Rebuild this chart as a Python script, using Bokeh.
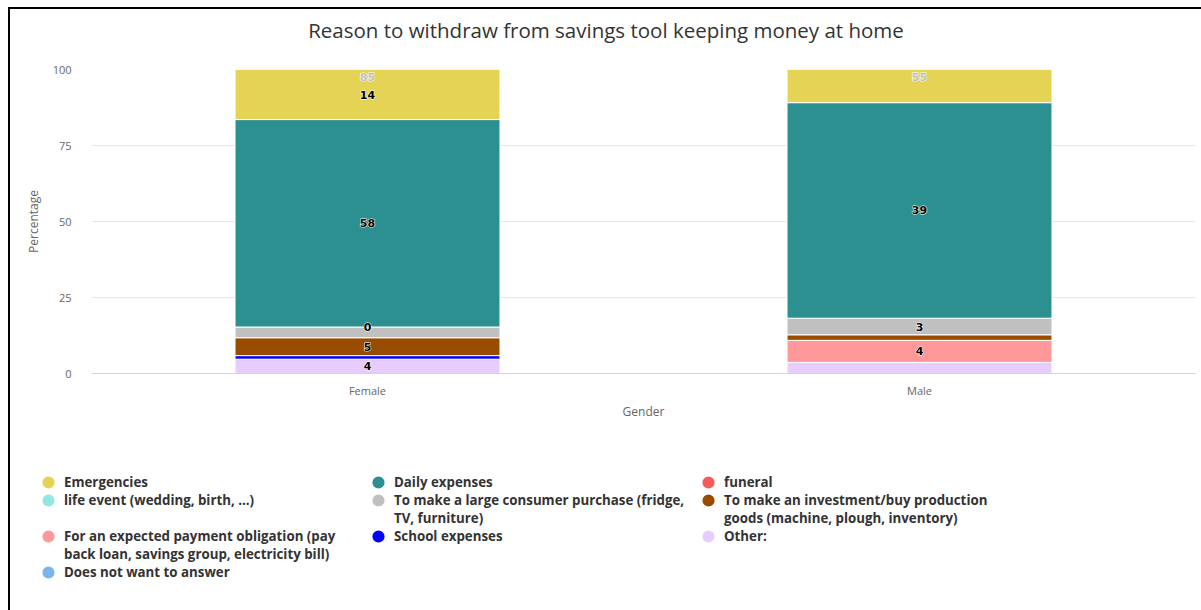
from bokeh.plotting import figure
from bokeh.layouts import column
from bokeh.models import Legend, LegendItem, FixedTicker
from bokeh.embed import file_html
from bokeh.resources import INLINE
from bokeh.core.properties import value

# ---------------- data ----------------
categories = ["Female", "Male"]

title_text = "Reason to withdraw from savings tool keeping money at home"

# legend names, as wrapped lines
series_names = [
    ["Emergencies"],
    ["Daily expenses"],
    ["funeral"],
    ["life event (wedding, birth, ...)"],
    ["To make a large consumer purchase (fridge,", "TV, furniture)"],
    ["To make an investment/buy production", "goods (machine, plough, inventory)"],
    ["For an expected payment obligation (pay", "back loan, savings group, electricity bill)"],
    ["School expenses"],
    ["Other:"],
    ["Does not want to answer"],
]

emergencies = [14, 6]
daily_expenses = [58, 39]
funeral = [0, None]
life_event = [None, None]
large_purchase = [3, 3]
investment = [5, 1]
payment_obligation = [None, 4]
school_expenses = [1, None]
other = [4, 2]
no_answer = [None, None]

series_values = [emergencies, daily_expenses, funeral, life_event, large_purchase,
                 investment, payment_obligation, school_expenses, other, no_answer]

colors = ["#e4d354", "#2b908f", "#f45b5b", "#91e8e1", "#c0c0c0",
          "#994c00", "#ff9999", "#0000ff", "#e6ccff", "#7cb5ec"]

y_ticks = [0, 25, 50, 75, 100]

# ---------------- sizes ----------------
W = 1191
H_T = 44
H_MAIN = 411
H_LEG = 601 - H_T - H_MAIN

# ---------------- title figure ----------------
tf = figure(width=W, height=H_T, output_backend="svg", toolbar_location=None,
            x_axis_location=None, y_axis_location=None,
            min_border_left=0, min_border_right=0, min_border_top=0,
            min_border_bottom=0, title=title_text)
tf.frame_align = False
tf.outline_line_color = None
tf.grid.grid_line_color = None
tf.title.align = "center"
tf.title.offset = 2
tf.title.text_font = "Open Sans"
tf.title.text_font_size = "20.5px"
tf.title.text_font_style = "normal"
tf.title.text_color = "#333333"
tf.title.standoff = 9

# ---------------- main figure ----------------
p = figure(x_range=categories, y_range=(0, 100), width=W, height=H_MAIN,
           output_backend="svg", toolbar_location=None,
           min_border_left=81, min_border_right=6, min_border_top=16,
           min_border_bottom=91)

p.outline_line_color = None
p.xgrid.grid_line_color = None
p.ygrid.grid_line_color = "#e6e6e6"
p.ygrid.ticker = FixedTicker(ticks=y_ticks)

p.yaxis.ticker = FixedTicker(ticks=y_ticks)
p.yaxis.axis_line_color = None
p.yaxis.major_tick_line_color = None
p.yaxis.minor_tick_line_color = None
p.yaxis.major_label_text_color = "#666666"
p.yaxis.major_label_text_font = "Open Sans"
p.yaxis.major_label_text_font_size = "11px"
p.yaxis.major_label_standoff = 14
p.yaxis.axis_label = "Percentage"
p.yaxis.axis_label_text_font = "Open Sans"
p.yaxis.axis_label_text_font_size = "12px"
p.yaxis.axis_label_text_font_style = "normal"
p.yaxis.axis_label_text_color = "#666666"
p.yaxis.axis_label_standoff = 8

p.xaxis.axis_line_color = "#ccd6eb"
p.xaxis.major_tick_line_color = None
p.xaxis.minor_tick_line_color = None
p.xaxis.major_label_text_color = "#666666"
p.xaxis.major_label_text_font = "Open Sans"
p.xaxis.major_label_text_font_size = "11px"
p.xaxis.major_label_standoff = 3
p.xaxis.axis_label = "Gender"
p.xaxis.axis_label_text_font = "Open Sans"
p.xaxis.axis_label_text_font_size = "12px"
p.xaxis.axis_label_text_font_style = "normal"
p.xaxis.axis_label_text_color = "#666666"
p.xaxis.axis_label_standoff = 2

# ---------------- stacking (percent) ----------------
totals = [sum(v[i] for v in series_values if v[i] is not None) for i in range(len(categories))]
n = len(series_values)
bottoms = [[0.0] * len(categories) for _ in range(n)]
tops = [[0.0] * len(categories) for _ in range(n)]
running = [0.0] * len(categories)
for s in range(n - 1, -1, -1):  # first series on top
    for i in range(len(categories)):
        v = series_values[s][i]
        pct = 0.0 if v is None else v / totals[i] * 100.0
        bottoms[s][i] = running[i]
        tops[s][i] = running[i] + pct
        running[i] += pct

for s in range(n - 1, -1, -1):
    xs, bs, ts = [], [], []
    for i, c in enumerate(categories):
        v = series_values[s][i]
        if v is not None and v > 0:
            xs.append(c); bs.append(bottoms[s][i]); ts.append(tops[s][i])
    if xs:
        p.vbar(x=xs, bottom=bs, top=ts, width=0.48, fill_color=colors[s],
               line_color="white", line_width=1)

# ---------------- labels with overlap hiding ----------------
frame_h = 304.0
total_offset_px = 7
min_gap = 17.5 / frame_h * 100.0
lab_x, lab_y, lab_t = [], [], []
tot_x, tot_y, tot_t = [], [], []
for i, c in enumerate(categories):
    shown = [100.0 - total_offset_px / frame_h * 100.0]
    tot_x.append(c); tot_y.append(100.0); tot_t.append(str(totals[i]))
    for s in range(n):
        v = series_values[s][i]
        if v is None:
            continue
        yc = (bottoms[s][i] + tops[s][i]) / 2.0
        if all(abs(yc - y0) >= min_gap for y0 in shown):
            shown.append(yc)
            lab_x.append(c); lab_y.append(yc); lab_t.append(str(v))

common = dict(text_align="center", text_baseline="middle",
              text_font=value("DejaVu Sans"), text_font_size="11px",
              text_font_style="bold")
# halo layers
p.text(x=tot_x, y=tot_y, text=tot_t, y_offset=total_offset_px,
       text_color="#ffffff", text_outline_color="#ffffff", **common)
p.text(x=tot_x, y=tot_y, text=tot_t, y_offset=total_offset_px,
       text_color="#c0c0c0", **common)
p.text(x=lab_x, y=lab_y, text=lab_t,
       text_color="#ffffff", text_outline_color="#ffffff", **common)
p.text(x=lab_x, y=lab_y, text=lab_t, text_color="#000000", **common)

# ---------------- legend figure ----------------
lf = figure(width=W, height=H_LEG, output_backend="svg", toolbar_location=None,
            x_axis_location=None, y_axis_location=None,
            min_border_left=29, min_border_top=9, min_border_right=0,
            min_border_bottom=0)
lf.frame_align = False
lf.outline_line_color = None
lf.grid.grid_line_color = None

nan = float("nan")
NCOLS = 3
# one legend cell per text line, laid out row-major, 3 columns
cells = []
for r0 in range(0, n, NCOLS):
    group = list(range(r0, min(r0 + NCOLS, n)))
    nlines = max(len(series_names[s]) for s in group)
    for li in range(nlines):
        for c in range(NCOLS):
            s = r0 + c
            if s < n and li < len(series_names[s]):
                cells.append((s, series_names[s][li], li == 0))
            elif s < n or li > 0:
                cells.append((None, "", False))

items = []
for s, text, with_marker in cells:
    color = colors[s] if s is not None else "#ffffff"
    alpha = 1.0 if with_marker else 0.0
    r = lf.scatter(x=[nan], y=[nan], marker="circle", size=7,
                   fill_color=color, line_color=color, line_width=5,
                   fill_alpha=alpha, line_alpha=alpha)
    items.append(LegendItem(label=text, renderers=[r]))

legend = Legend(items=items, ncols=NCOLS, location="top_left",
                orientation="horizontal",
                glyph_width=18, glyph_height=18, label_standoff=7,
                label_width=305, label_height=18, spacing=0,
                padding=0, margin=0, border_line_color=None,
                background_fill_alpha=0,
                label_text_font="Open Sans", label_text_font_size="13.3px",
                label_text_font_style="bold", label_text_color="#333333")
lf.add_layout(legend, "center")

layout = column(tf, p, lf, spacing=0)
layout.styles = {"border-left": "2px solid #000", "border-top": "2px solid #000",
                 "margin-left": "8px", "margin-top": "7px"}

open("out.html", "w").write(file_html(layout, INLINE))
